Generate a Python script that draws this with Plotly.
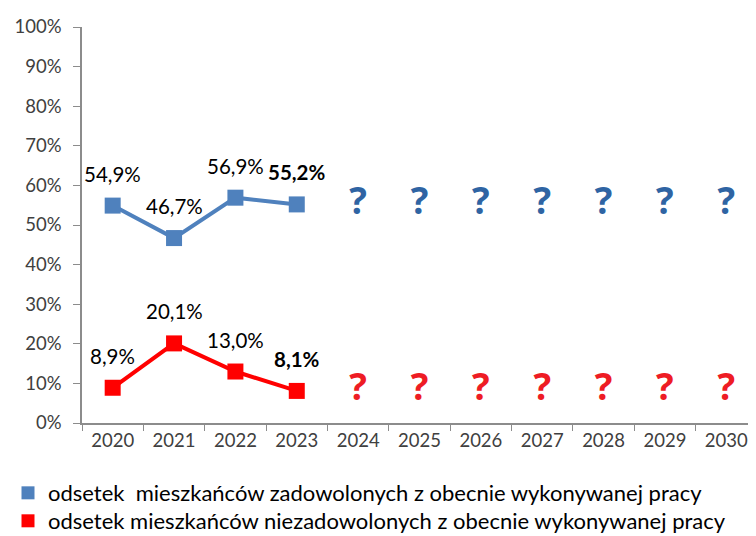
import plotly.graph_objects as go

years = ["2020", "2021", "2022", "2023"]
future_years = ["2024", "2025", "2026", "2027", "2028", "2029", "2030"]
all_years = years + future_years
satisfied = [54.9, 46.7, 56.9, 55.2]
dissatisfied = [8.9, 20.1, 13.0, 8.1]
name_sat = "odsetek  mieszkańców zadowolonych z obecnie wykonywanej pracy"
name_dis = "odsetek mieszkańców niezadowolonych z obecnie wykonywanej pracy"
y_ticks = list(range(0, 101, 10))

BLUE = "#4F81BD"
RED = "#FF0000"
FONT = "Lato, 'Open Sans', sans-serif"

fig = go.Figure()

for vals, color, qcolor in [(satisfied, BLUE, "#2F64A3"), (dissatisfied, RED, "#EE1C24")]:
    fig.add_trace(go.Scatter(
        x=years, y=vals, mode="lines+markers",
        line=dict(color=color, width=4),
        marker=dict(symbol="square", size=16, color=color),
        showlegend=False, hoverinfo="skip"))
    fig.add_trace(go.Scatter(
        x=future_years, y=[vals[-1]] * len(future_years), mode="text",
        text=["<b>?</b>"] * len(future_years),
        textfont=dict(family="'Open Sans', sans-serif", size=37, color=qcolor),
        textposition="middle center", showlegend=False, hoverinfo="skip",
        cliponaxis=False))
    for i, v in enumerate(vals):
        label = f"{v:.1f}%".replace(".", ",")
        if i == len(vals) - 1:
            label = f"<b>{label}</b>"
        fig.add_annotation(x=i, y=v, xref="x", yref="y", text=label, showarrow=False,
                           yshift=32, font=dict(family=FONT, size=20.5, color="#000000"))

for name, color, leg in [(name_sat, BLUE, "legend"), (name_dis, RED, "legend2")]:
    fig.add_trace(go.Scatter(
        x=[None], y=[None], mode="markers", name=name, legend=leg,
        marker=dict(symbol="square", size=13, color=color)))

legend_style = dict(xref="paper", yref="container", xanchor="left", yanchor="middle",
                    font=dict(family=FONT, size=22, color="#000000"),
                    itemwidth=30, bgcolor="rgba(0,0,0,0)")

fig.update_layout(
    width=756, height=536,
    margin=dict(l=72, r=7, t=14, b=121),
    paper_bgcolor="white", plot_bgcolor="white",
    font=dict(family=FONT, size=17, color="#404040"),
    legend=dict(x=-0.141, y=0.0951, **legend_style),
    legend2=dict(x=-0.141, y=0.0429, **legend_style),
    xaxis=dict(type="category", categoryorder="array", categoryarray=all_years,
               range=[-0.5, len(all_years) - 0.5],
               showline=True, linecolor="#8C8C8C", linewidth=1.5,
               ticks="outside", tickson="boundaries", ticklen=6, tickcolor="#8C8C8C",
               showgrid=False, tickfont=dict(size=18.5, color="#404040")),
    yaxis=dict(range=[0, 100], tickvals=y_ticks, ticktext=[f"{t}%" for t in y_ticks],
               showline=True, linecolor="#8C8C8C", linewidth=1.5,
               ticks="outside", ticklen=7, tickcolor="#8C8C8C", ticklabelstandoff=8,
               showgrid=False, zeroline=False, tickfont=dict(size=18.5, color="#404040")),
)

fig.write_html("out.html")
